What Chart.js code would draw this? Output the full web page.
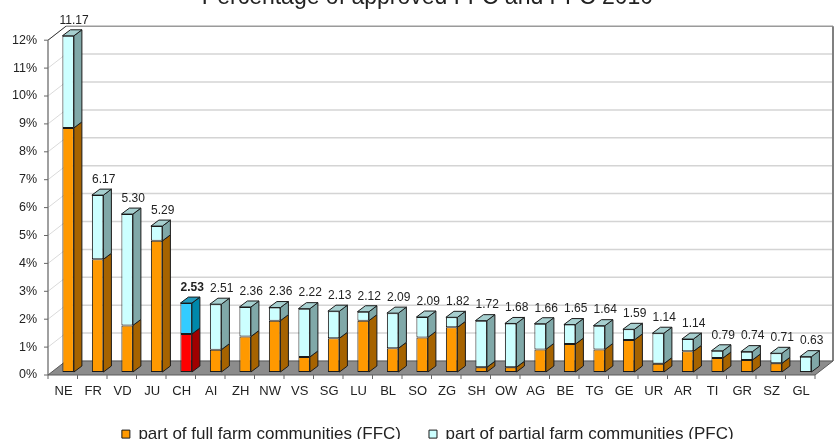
<!DOCTYPE html>
<html>
<head>
<meta charset="utf-8">
<script src="https://cdn.jsdelivr.net/npm/chart.js@4/dist/chart.umd.min.js"></script>
<style>
html,body{margin:0;padding:0;background:#fff;overflow:hidden}
#wrap{width:840px;height:439px;position:relative}
</style>
</head>
<body>
<div id="wrap"><canvas id="c" width="840" height="439"></canvas></div>
<script>
// ---------------- data ----------------
const titleText = 'Percentage of approved FFC and PFC 2010';
const seriesNames = ['part of full farm communities (FFC)', 'part of partial farm communities (PFC)'];
const cantons = ['NE','FR','VD','JU','CH','AI','ZH','NW','VS','SG','LU','BL','SO','ZG','SH','OW','AG','BE','TG','GE','UR','AR','TI','GR','SZ','GL'];
const ffcValues = [8.75,4.04,1.67,4.70,1.36,0.80,1.27,1.84,0.54,1.21,1.84,0.85,1.24,1.60,0.17,0.17,0.81,1.00,0.81,1.15,0.30,0.74,0.50,0.43,0.31,0.00];
const pfcValues = [3.30,2.30,3.99,0.53,1.11,1.63,1.06,0.47,1.73,0.97,0.32,1.26,0.73,0.36,1.67,1.57,0.92,0.70,0.85,0.38,1.09,0.44,0.26,0.30,0.36,0.55];
const valueLabels = ['11.17','6.17','5.30','5.29','2.53','2.51','2.36','2.36','2.22','2.13','2.12','2.09','2.09','1.82','1.72','1.68','1.66','1.65','1.64','1.59','1.14','1.14','0.79','0.74','0.71','0.63'];
const yMin = 0, yMax = 12, yStep = 1;
const highlightCanton = 'CH';

// ---------------- style ----------------
const FONT = '"Liberation Sans", Arial, Helvetica, sans-serif';
const DEPTH = {dx: 8, dy: 6};          // bar side / top depth
const FRONT = {dx: -5.4, dy: 3};       // front edge of floor / left wall vs bar plane
const BACK = {dx: 12.6, dy: -11};      // back wall vs bar plane
const EDGE = '#1a1a1a';
const colors = {
  ffc:   {front:'#FF9900', side:'#A66300', top:'#CC7A00'},
  pfc:   {front:'#CCFFFF', side:'#80A8A8', top:'#A6CFCF'},
  ffcHi: {front:'#FF0000', side:'#A00000', top:'#CC0000'},
  pfcHi: {front:'#33CCFF', side:'#0088AA', top:'#2299BB'}
};
const isHi = i => cantons[i] === highlightCanton;
const palette = (s, i) => isHi(i) ? (s === 0 ? colors.ffcHi : colors.pfcHi) : (s === 0 ? colors.ffc : colors.pfc);

function poly(ctx, pts, fill, stroke, lw) {
  ctx.beginPath();
  ctx.moveTo(pts[0][0], pts[0][1]);
  for (let k = 1; k < pts.length; k++) ctx.lineTo(pts[k][0], pts[k][1]);
  ctx.closePath();
  if (fill) { ctx.fillStyle = fill; ctx.fill(); }
  if (stroke) { ctx.strokeStyle = stroke; ctx.lineWidth = lw || 1; ctx.stroke(); }
}
function line(ctx, x1, y1, x2, y2, color, lw) {
  ctx.beginPath(); ctx.moveTo(x1, y1); ctx.lineTo(x2, y2);
  ctx.strokeStyle = color; ctx.lineWidth = lw || 1; ctx.stroke();
}

const scene3d = {
  id: 'scene3d',
  beforeDatasetsDraw(chart) {
    const {ctx, chartArea: a, scales: {x, y}} = chart;
    const yp = v => y.getPixelForValue(v);
    const catW = x.width / cantons.length;
    ctx.save();
    // back wall + left wall grid lines
    y.ticks.forEach(t => {
      const py = yp(t.value);
      line(ctx, a.left + BACK.dx, py + BACK.dy, a.right + BACK.dx, py + BACK.dy,
           t.value === yMax ? '#9a9a9a' : '#d4d4d4', 1.5);
      line(ctx, a.left + FRONT.dx, py + FRONT.dy, a.left + BACK.dx, py + BACK.dy, '#dadada', 1);
    });
    // left wall top edge and front axis
    line(ctx, a.left + FRONT.dx, yp(yMax) + FRONT.dy, a.left + BACK.dx, yp(yMax) + BACK.dy, '#333', 1);
    line(ctx, a.left + FRONT.dx, yp(yMax) + FRONT.dy, a.left + FRONT.dx, yp(0) + FRONT.dy, '#808080', 1.5);
    // right edge of back wall
    line(ctx, a.right + BACK.dx, yp(yMax) + BACK.dy, a.right + BACK.dx, yp(0) + BACK.dy, '#808080', 2);
    // floor
    const y0 = yp(0);
    poly(ctx, [
      [a.left + FRONT.dx, y0 + FRONT.dy], [a.right + FRONT.dx, y0 + FRONT.dy],
      [a.right + BACK.dx, y0 + BACK.dy], [a.left + BACK.dx, y0 + BACK.dy]
    ], '#8c8c8c', '#5a5a5a', 1);
    // y tick marks
    y.ticks.forEach(t => {
      const py = yp(t.value) + FRONT.dy;
      line(ctx, a.left + FRONT.dx - 4, py, a.left + FRONT.dx, py, '#666', 1);
    });
    // x tick marks (category boundaries)
    for (let i = 0; i <= cantons.length; i++) {
      const px = a.left + i * catW + FRONT.dx;
      line(ctx, px, y0 + FRONT.dy, px, y0 + FRONT.dy + 4, '#666', 1);
    }
    ctx.restore();
  },
  afterDatasetsDraw(chart) {
    const {ctx} = chart;
    const metas = [chart.getDatasetMeta(0), chart.getDatasetMeta(1)];
    ctx.save();
    cantons.forEach((name, i) => {
      let top = null, topS = -1;
      [0, 1].forEach(s => {
        const el = metas[s].data[i];
        if (!el) return;
        const p = el.getProps(['x', 'y', 'base', 'width'], true);
        if (p.base - p.y <= 0.5) return;
        const r = p.x + p.width / 2;
        const c = palette(s, i);
        poly(ctx, [[r, p.y], [r + DEPTH.dx, p.y - DEPTH.dy], [r + DEPTH.dx, p.base - DEPTH.dy], [r, p.base]],
             c.side, EDGE, 1);
        top = p; topS = s;
      });
      if (top) {
        const l = top.x - top.width / 2, r = top.x + top.width / 2;
        poly(ctx, [[l, top.y], [l + DEPTH.dx, top.y - DEPTH.dy], [r + DEPTH.dx, top.y - DEPTH.dy], [r, top.y]],
             palette(topS, i).top, EDGE, 1);
        ctx.font = (isHi(i) ? 'bold ' : '') + '12px ' + FONT;
        ctx.fillStyle = '#222';
        ctx.textAlign = 'center';
        ctx.textBaseline = 'middle';
        ctx.fillText(valueLabels[i], top.x + 6, top.y - DEPTH.dy - 9.5);
      }
    });
    ctx.restore();
  },
  afterDraw(chart) {
    const {ctx} = chart;
    ctx.save();
    ctx.font = '23px ' + FONT;
    ctx.fillStyle = '#222';
    ctx.textAlign = 'center';
    ctx.textBaseline = 'alphabetic';
    ctx.fillText(titleText, 427.5, 3.5);
    ctx.restore();
  }
};

Chart.defaults.font.family = FONT;
Chart.defaults.color = '#222';

new Chart(document.getElementById('c'), {
  type: 'bar',
  data: {
    labels: cantons,
    datasets: [
      {
        label: seriesNames[0], data: ffcValues,
        backgroundColor: c => palette(0, c.dataIndex).front,
        borderColor: EDGE, borderWidth: 1, borderSkipped: false, clip: false
      },
      {
        label: seriesNames[1], data: pfcValues,
        backgroundColor: c => palette(1, c.dataIndex).front,
        borderColor: EDGE, borderWidth: 1, borderSkipped: false, clip: false
      }
    ]
  },
  options: {
    responsive: false,
    animation: false,
    devicePixelRatio: 1,
    barPercentage: 0.39,
    categoryPercentage: 1,
    layout: {padding: {top: 37.2, right: -5.5, bottom: -13.6, left: 10}},
    plugins: {
      legend: {
        position: 'bottom',
        labels: {boxWidth: 8, boxHeight: 8, padding: 28, font: {size: 17}, color: '#222'}
      },
      tooltip: {enabled: false},
      title: {display: false}
    },
    scales: {
      x: {
        stacked: true,
        grid: {display: false, drawTicks: false},
        border: {display: false},
        ticks: {font: {size: 13}, color: '#222', padding: 11.5, labelOffset: -4.5, maxRotation: 0, autoSkip: false},
        afterFit: s => { s.height = 25.6; }
      },
      y: {
        stacked: true,
        min: yMin, max: yMax,
        grid: {display: false, drawTicks: false},
        border: {display: false},
        ticks: {stepSize: yStep, font: {size: 12.5}, color: '#222', padding: 16.4, labelOffset: 3,
                callback: v => v + '%'},
        afterFit: s => { s.width = 43.4; }
      },
      y2: {
        position: 'right',
        grid: {display: false, drawTicks: false},
        border: {display: false},
        ticks: {display: false},
        afterFit: s => { s.width = 25.1; }
      }
    }
  },
  plugins: [scene3d]
});
</script>
</body>
</html>
